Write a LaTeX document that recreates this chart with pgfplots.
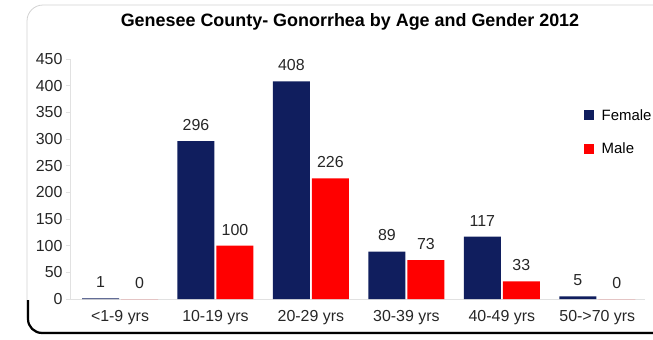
\documentclass[border=0pt]{standalone}
\usepackage{pgfplots}
\pgfplotsset{compat=1.18}
\usepackage{fontspec}
\setmainfont{Liberation Sans}
\definecolor{navy}{RGB}{16,30,94}
\definecolor{gridgray}{RGB}{225,225,225}
\begin{document}
\begin{tikzpicture}[x=1bp,y=1bp]
\useasboundingbox (0,0) rectangle (653,-339);
% frame
\draw[gray!35, line width=0.8bp, rounded corners=16bp] (27,-5) rectangle (700,-332);
\draw[black, line width=2.2bp, rounded corners=14bp] (28,-300) -- (28,-333) -- (700,-333);
\node[font=\fontsize{18}{21}\selectfont\bfseries] at (350,-22) {Genesee County- Gonorrhea by Age and Gender 2012};
\begin{axis}[
  at={(70bp,-299bp)}, anchor=south west,
  scale only axis, width=575bp, height=240bp,
  ybar=0pt, bar width=37bp, bar shift auto,
  xmin=-0.524, xmax=5.5, ymin=0, ymax=450,
  ytick={0,50,...,450},
  xtick={0,1,2,3,4,5},
  xticklabels={{<1-9 yrs},{10-19 yrs},{20-29 yrs},{30-39 yrs},{40-49 yrs},{50->70 yrs}},
  axis x line*=bottom, axis y line*=left,
  axis line style={gridgray, line width=0.8bp},
  x axis line style={-}, y axis line style={-},
  major x tick style={draw=none},
  major y tick style={gridgray, line width=0.8bp},
  tick align=outside, major tick length=4bp,
  tick label style={font=\fontsize{16}{19}\selectfont, text=black!85},
  /pgf/number format/assume math mode=true,
  xticklabel style={yshift=-4bp},
  nodes near coords,
  every node near coord/.append style={font=\fontsize{16}{19}\selectfont, text=black!85, yshift=7bp},
  legend style={at={(0.893,0.8)}, anchor=north west, draw=none, fill=none,
    font=\fontsize{15}{18}\selectfont, row sep=17bp, inner sep=0pt,
    legend cell align=left},
  legend image code/.code={\fill[#1] (0bp,-5bp) rectangle (10bp,5bp);},
  /tikz/every odd column/.append style={column sep=6bp},
]
\addplot[fill=navy, draw=none] coordinates {(0,1) (1,296) (2,408) (3,89) (4,117) (5,5)};
\addplot[fill=red, draw=none] coordinates {(0,0) (1,100) (2,226) (3,73) (4,33) (5,0)};
\legend{Female, Male}
\end{axis}
\end{tikzpicture}
\end{document}
